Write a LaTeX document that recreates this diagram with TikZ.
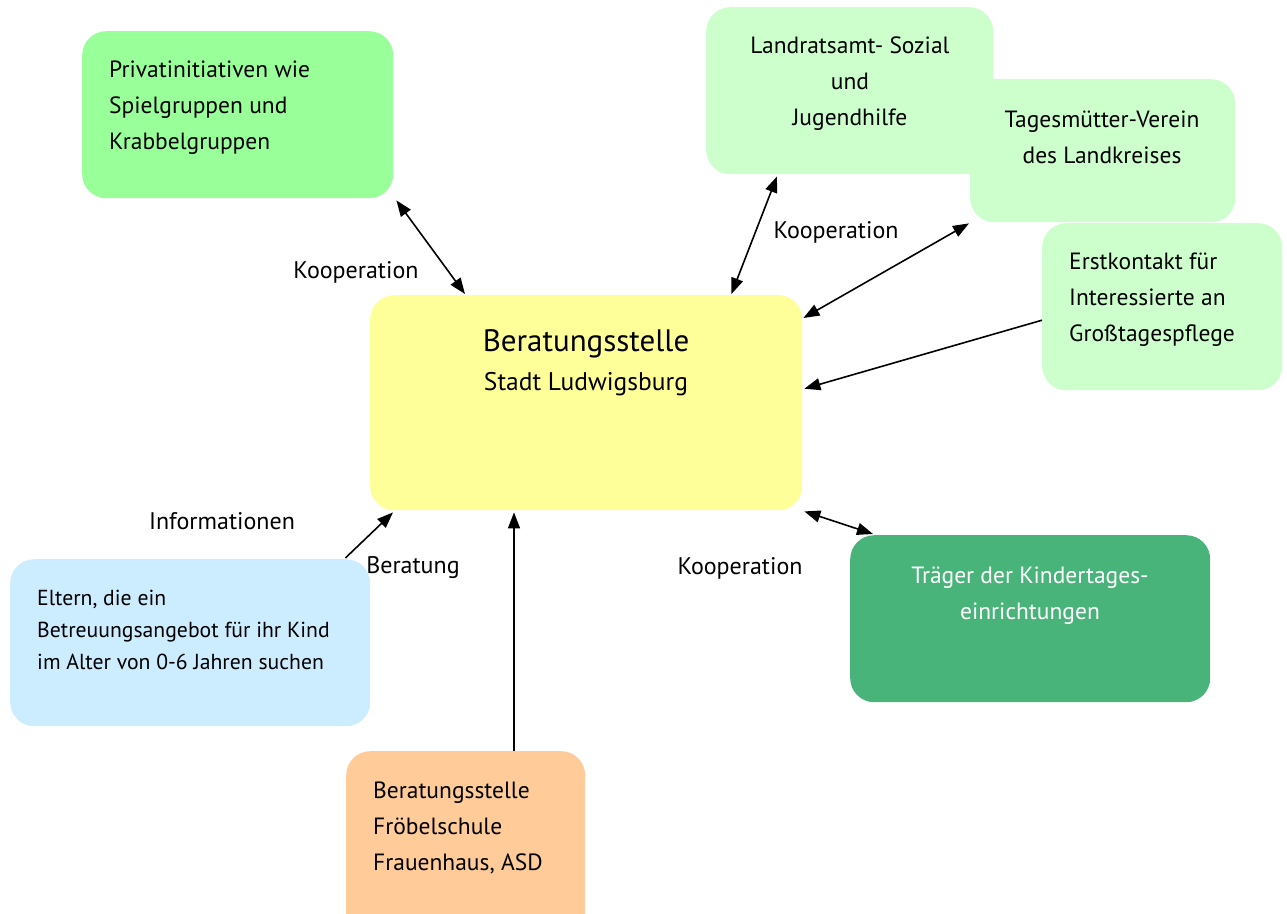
\documentclass[tikz,border=0pt]{standalone}
\usepackage{fontspec}
\setmainfont{PT Sans}
\usetikzlibrary{arrows.meta,calc}
\definecolor{cyellow}{HTML}{FFFF99}
\definecolor{cgreen}{HTML}{99FF99}
\definecolor{clight}{HTML}{CCFFCC}
\definecolor{cblue}{HTML}{CCECFF}
\definecolor{corange}{HTML}{FFCC99}
\definecolor{cdark}{HTML}{49B47A}
\begin{document}
\begin{tikzpicture}[x=1pt,y=-1pt,
  box/.style={rounded corners=24pt, inner sep=0pt, anchor=north west, draw=none},
  txt/.style={font=\fontsize{23.5}{36}\selectfont, inner sep=0pt},
  lbl/.style={font=\fontsize{24}{28}\selectfont, inner sep=0pt},
  tip/.tip={Triangle[length=16pt,width=12pt]},
  conn/.style={line width=1.6pt, -tip},
  both/.style={line width=1.6pt, tip-tip}
]
\useasboundingbox (0,0) rectangle (1287,913);
% boxes
\node[box, fill=cgreen, minimum width=311pt, minimum height=167pt] (priv) at (82,31) {};
\node[box, fill=clight, minimum width=287pt, minimum height=167pt] (land) at (706,7) {};
\node[box, fill=clight, minimum width=265pt, minimum height=143pt] (tag) at (970,79) {};
\node[box, fill=clight, minimum width=240pt, minimum height=167pt] (erst) at (1042,223) {};
\node[box, fill=cyellow, minimum width=432pt, minimum height=215pt] (cen) at (370,295) {};
\node[box, fill=cblue, minimum width=360pt, minimum height=167pt] (elt) at (10,559) {};
\node[box, fill=corange, minimum width=239pt, minimum height=190pt] (frob) at (346,751) {};
\node[box, fill=cdark, minimum width=360pt, minimum height=167pt] (trag) at (850,535) {};
% texts
\node[txt, align=left, anchor=west] (privt) at (109,108) {Privatinitiativen wie\\Spielgruppen und\\Krabbelgruppen};
\node[txt, align=center] (landt) at (850,84) {Landratsamt- Sozial\\und\\Jugendhilfe};
\node[txt, align=center] (tagt) at (1102,137) {Tagesmütter-Verein\\des Landkreises};
\node[txt, align=left, anchor=west] (erstt) at (1069,300) {Erstkontakt für\\Interessierte an\\Großtagespflege};
\node[inner sep=0pt, font=\fontsize{31}{36}\selectfont] (cent1) at (586,344) {Beratungsstelle};
\node[inner sep=0pt, font=\fontsize{25.5}{30}\selectfont] (cent2) at (586,384) {Stadt Ludwigsburg};
\node[inner sep=0pt, align=left, anchor=west, font=\fontsize{21.7}{32}\selectfont] (eltt) at (37,630) {Eltern, die ein\\Betreuungsangebot für ihr Kind\\im Alter von 0-6 Jahren suchen};
\node[txt, align=left, anchor=west] (frobt) at (373,828) {Beratungsstelle\\Fröbelschule\\Frauenhaus, ASD};
\node[txt, align=center, text=white] (tragt) at (1030,596) {Träger der Kindertages-\\einrichtungen};
% labels
\node[lbl] (k1) at (356,272) {Kooperation};
\node[lbl] (k2) at (836,232) {Kooperation};
\node[lbl] (k3) at (740,568) {Kooperation};
\node[lbl] (inf) at (222,521) {Informationen};
\node[lbl] (ber) at (413,568) {Beratung};
% connectors
\draw[both] ($(priv.south east)+(3,2)$) -- ($(cen.north west)+(95,-1)$);
\draw[both] ($(land.south west)+(71,2)$) -- ($(cen.north east)+(-71,-1)$);
\draw[both] ($(tag.south west)+(-1,1)$) -- ($(cen.north east)+(1,23)$);
\draw[conn] ($(erst.west)+(0,13.5)$) -- ($(cen.east)+(2,-14)$);
\draw[conn] ($(elt.north east)+(-25,-1)$) -- ($(cen.south west)+(23,2)$);
\draw[conn] ($(frob.north west)+(168,0)$) -- ($(cen.south west)+(144,2)$);
\draw[both] ($(cen.south east)+(2,1)$) -- ($(trag.north west)+(23,-1)$);
\end{tikzpicture}
\end{document}
